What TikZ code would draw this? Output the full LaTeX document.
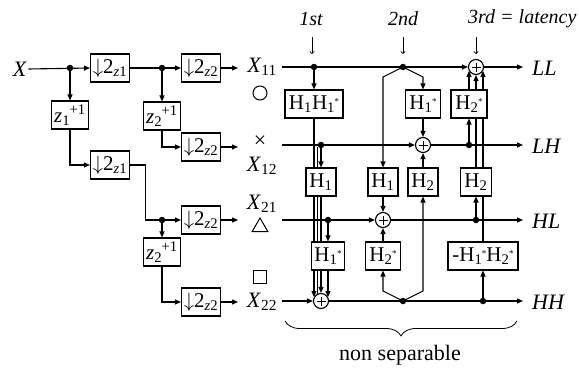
\documentclass[tikz,border=0pt]{standalone}
\usepackage{fontspec}
\usepackage{amsmath}
\setmainfont{Liberation Serif}
\usetikzlibrary{arrows.meta,backgrounds,decorations.pathreplacing,shapes.geometric}
\newcommand{\sbx}[1]{\ensuremath{{}_{\text{#1}}}}
\newcommand{\hs}[1]{H\textsubscript{#1}\kern-0.5pt\raisebox{0.5ex}{\fontsize{9}{9}\selectfont *}}
\newcommand{\zp}[1]{\textit{z}\textsubscript{#1}\kern-0.5pt\textsuperscript{+1}}
\newcommand{\dwn}[1]{$\downarrow$2\ensuremath{_{\text{\itshape z\upshape #1}}}}
\tikzset{
  ln/.style={line width=1.1pt},
  arr/.style={line width=1.1pt, -{Triangle[length=6pt,width=5pt]}},
  tarr/.style={line width=0.6pt, -{To[length=3pt,width=5pt]}},
  box/.style={draw, line width=1.1pt, fill=white, minimum height=28pt, inner xsep=2pt, inner ysep=1pt, font=\fontsize{21}{24}\selectfont},
  dot/.style={circle, fill, inner sep=0pt, minimum size=6.5pt},
  plus/.style={circle, draw, line width=1.1pt, fill=white, minimum size=15pt, inner sep=0pt,
    path picture={\draw[line width=1pt] (path picture bounding box.center) ++(-4.5pt,0) -- ++(9pt,0)
      (path picture bounding box.center) ++(0,-4.5pt) -- ++(0,9pt);}},
  lbl/.style={inner sep=1pt, font=\fontsize{22}{26}\selectfont},
  top/.style={inner sep=1pt, font=\fontsize{20}{24}\selectfont\itshape},
  sym/.style={draw, line width=1pt, inner sep=0pt},
}
\begin{document}
\begin{tikzpicture}[x=1pt,y=-1pt]
\useasboundingbox (0,0) rectangle (579,372);
% ---------- left part ----------
\node[lbl] (X) at (20,69) {\textit{X}};
\node[dot] (d1) at (70,68) {};
\node[box, minimum width=39pt] (a1) at (110,68) {\dwn{1}};
\node[dot] (d2) at (162,68) {};
\node[box, minimum width=39pt] (b1) at (201,68) {\dwn{2}};
\node[box, minimum width=37pt] (z1) at (70,115) {\zp{1}};
\node[box, minimum width=37pt] (z2) at (162,116) {\zp{2}};
\node[box, minimum width=39pt] (b2) at (201,147) {\dwn{2}};
\node[box, minimum width=39pt] (a2) at (110,165) {\dwn{1}};
\node[dot] (d3) at (162,220) {};
\node[box, minimum width=39pt] (b3) at (201,220) {\dwn{2}};
\node[box, minimum width=37pt] (z2b) at (162,252) {\zp{2}};
\node[box, minimum width=39pt] (b4) at (201,302) {\dwn{2}};
\coordinate (o1) at (238,68);
\coordinate (o2) at (238,147);
\coordinate (o3) at (238,220);
\coordinate (o4) at (238,302);
\node[lbl] (X11) at (262,67) {\textit{X}\sbx{11}};
\node[lbl] (X12) at (262,166) {\textit{X}\sbx{12}};
\node[lbl] (X21) at (262,204) {\textit{X}\sbx{21}};
\node[lbl] (X22) at (262,302) {\textit{X}\sbx{22}};
\node[sym, circle, minimum size=14pt] (sc) at (260,93) {};
\node[inner sep=0pt, font=\fontsize{22}{24}\selectfont] (sx) at (260,142) {×};
\node[sym, regular polygon, regular polygon sides=3, minimum size=18pt] (st) at (260,227) {};
\node[sym, rectangle, minimum size=13pt] (ssq) at (260,277) {};
% ---------- right part ----------
\coordinate (s1) at (282,67);
\coordinate (s2) at (282,145);
\coordinate (s3) at (282,220);
\coordinate (s4) at (282,301);
\coordinate (f1) at (523,67);
\coordinate (f2) at (523,145);
\coordinate (f3) at (523,220);
\coordinate (f4) at (523,301);
\node[lbl, anchor=west] (LL) at (531,68) {\textit{LL}};
\node[lbl, anchor=west] (LH) at (531,146) {\textit{LH}};
\node[lbl, anchor=west] (HL) at (531,221) {\textit{HL}};
\node[lbl, anchor=west] (HHl) at (531,302) {\textit{HH}};
\node[dot] (e1) at (314,67) {};
\node[dot] (e2) at (403,67) {};
\node[plus] (pLL) at (476,67) {};
\node[box, minimum width=58pt] (HH) at (314,104) {H\textsubscript{1}\hs{1}};
\node[box, minimum width=35pt] (H1s) at (423,104) {\hs{1}};
\node[box, minimum width=36pt] (H2s) at (469,104) {\hs{2}};
\node[dot] (e3) at (321,145) {};
\node[plus] (pLH) at (423,145) {};
\node[dot] (e4) at (469,145) {};
\node[box, minimum width=30pt] (H1l) at (321,182) {H\textsubscript{1}};
\node[box, minimum width=30pt] (H1m) at (383,182) {H\textsubscript{1}};
\node[box, minimum width=30pt] (H2m) at (423,182) {H\textsubscript{2}};
\node[box, minimum width=31pt] (H2r) at (476,182) {H\textsubscript{2}};
\node[dot] (e5) at (328,220) {};
\node[plus] (pHL) at (383,220) {};
\node[dot] (e6) at (476,220) {};
\node[box, minimum width=33pt] (H1sb) at (328,256) {\hs{1}};
\node[box, minimum width=35pt] (H2sb) at (383,256) {\hs{2}};
\node[box, minimum width=70pt] (Hneg) at (483,256) {-\hs{1}\hs{2}};
\node[plus] (pHH) at (321,301) {};
\node[dot] (e7) at (403,301) {};
\node[dot] (e8) at (483,301) {};
\coordinate (xt) at (317.5,147);
% top labels
\node[top] (t1) at (311,19) {1st};
\node[top] (t2) at (403,19) {2nd};
\node[top, anchor=west] (t3) at (467,19) {3rd = latency};
\coordinate (u1) at (312,37); \coordinate (v1) at (312,54);
\coordinate (u2) at (403,37); \coordinate (v2) at (403,54);
\coordinate (u3) at (476,37); \coordinate (v3) at (476,54);
\draw[tarr] (u1) -- (v1);
\draw[tarr] (u2) -- (v2);
\draw[tarr] (u3) -- (v3);
% brace
\coordinate (bl) at (285,321);
\coordinate (br) at (517,321);
\draw[line width=0.8pt, decorate, decoration={brace, mirror, amplitude=15pt}] (bl) -- (br);
\node[lbl] (ns) at (400,355) {non separable};
% ---------- connectors (behind) ----------
\begin{pgfonlayer}{background}
\draw[arr] (X.east) -- (a1.west);
\draw[arr] (d1.center) -- (z1.north);
\draw[arr] (a1.east) -- (b1.west);
\draw[arr] (d2.center) -- (z2.north);
\draw[arr] (b1.east) -- (o1);
\draw[arr] (z2.south) |- (b2.west);
\draw[arr] (b2.east) -- (o2);
\draw[arr] (z1.south) |- (a2.west);
\draw[arr] (a2.east) -- ++(15,0) |- (b3.west);
\draw[arr] (d3.center) -- (z2b.north);
\draw[arr] (b3.east) -- (o3);
\draw[arr] (z2b.south) |- (b4.west);
\draw[arr] (b4.east) -- (o4);
% rows
\draw[arr] (s1) -- (pLL.west);
\draw[arr] (pLL.east) -- (f1);
\draw[arr] (s2) -- (pLH.west);
\draw[arr] (pLH.east) -- (f2);
\draw[arr] (s3) -- (pHL.west);
\draw[arr] (pHL.east) -- (f3);
\draw[arr] (s4) -- (pHH.west);
\draw[arr] (pHH.east) -- (f4);
% verticals
\draw[arr] (e1.center) -- (HH.north);
\draw[arr] (HH.south) -- (HH.south |- pHH.151);
\draw[arr] (e3.center) -- (H1l.north);
\draw[arr] (H1l.south) -- (pHH.north);
\draw[arr] (e5.center) -- (H1sb.north);
\draw[arr] (H1sb.south) -- (H1sb.south |- pHH.29);
\draw[ln] (xt) -- (xt |- pHH.116);
\draw[arr] (e2.center) -- ++(-20,10) -- (H1m.north);
\draw[arr] (e2.center) -- ++(20,10) -- (H1s.north);
\draw[arr] (H1s.south) -- (pLH.north);
\draw[arr] (H2m.north) -- (pLH.south);
\draw[arr] (e7.center) -- ++(20,-10) -- (H2m.south);
\draw[arr] (e7.center) -- ++(-20,-10) -- (H2sb.south);
\draw[arr] (H2sb.north) -- (pHL.south);
\draw[arr] (H1m.south) -- (pHL.north);
\draw[arr] (e4.center) -- (H2s.south);
\draw[arr] (H2s.north) -- (H2s.north |- pLL.209);
\draw[arr] (e6.center) -- (H2r.south);
\draw[arr] (H2r.north) -- (pLL.south);
\draw[arr] (e8.center) -- (Hneg.south);
\draw[arr] (Hneg.north) -- (Hneg.north |- pLL.331);
\end{pgfonlayer}
\end{tikzpicture}
\end{document}
